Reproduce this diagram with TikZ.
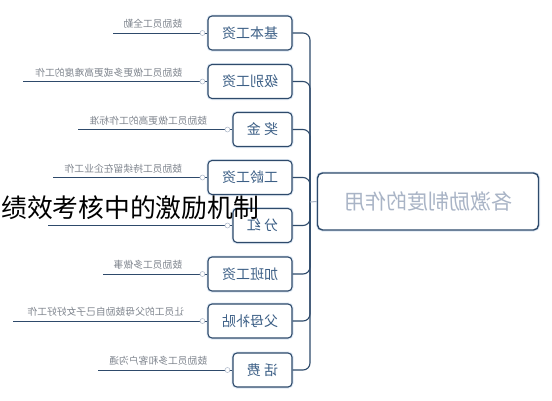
\documentclass[tikz,border=0pt]{standalone}
\usepackage{fontspec}
\newfontfamily\cjk{Noto Sans CJK SC}
\definecolor{navy}{HTML}{2E4A6B}
\definecolor{boxtext}{HTML}{3C5F86}
\definecolor{leaftext}{HTML}{80868F}
\definecolor{roottext}{HTML}{A9B4C6}
\definecolor{glow}{HTML}{DCE7F3}
\tikzset{
  childbox/.style={draw=navy, line width=1.1pt, rounded corners=4pt, fill=white,
    minimum height=34pt, inner sep=0pt, text=boxtext,
    font=\cjk\fontsize{14}{14}\selectfont,
    preaction={draw=glow, line width=3pt}},
  widebox/.style={childbox, minimum width=84pt},
  narrowbox/.style={childbox, minimum width=59pt},
  rootbox/.style={draw=navy, line width=1.4pt, rounded corners=5pt, fill=white,
    minimum width=221pt, minimum height=57pt, inner sep=0pt, text=roottext,
    font=\cjk\fontsize{21}{21}\selectfont,
    preaction={draw=glow, line width=3pt}},
  conn/.style={draw=navy, line width=1.1pt, rounded corners=7pt},
  leafline/.style={draw=navy, line width=1pt},
  leaflabel/.style={anchor=south east, inner sep=0pt, text=leaftext,
    font=\cjk\fontsize{9.8}{10}\selectfont},
  knob/.style={circle, draw=roottext, fill=white, line width=0.5pt,
    minimum size=5pt, inner sep=0pt},
  title/.style={anchor=west, inner sep=0pt, text=black,
    font=\cjk\fontsize{25.8}{26}\selectfont}
}
\begin{document}
\begin{tikzpicture}[x=1pt, y=-1pt]
\useasboundingbox (0,0) rectangle (552,400);
\fill[white] (0,0) rectangle (552,400);

% root
\node[rootbox] (root) at (428,201.5) {\reflectbox{各激励制度的作用}};
\coordinate (trunk) at (310,202);

% children
\node[widebox]   (c1) at (250,33)   {\reflectbox{基本工资}};
\node[widebox]   (c2) at (250,81.5) {\reflectbox{级别工资}};
\node[narrowbox] (c3) at (262.5,129.5) {\reflectbox{奖\ 金}};
\node[widebox]   (c4) at (250,177.5) {\reflectbox{工龄工资}};
\node[narrowbox] (c5) at (262.5,225.5) {\reflectbox{分\ 红}};
\node[widebox]   (c6) at (250,274)  {\reflectbox{加班工资}};
\node[widebox]   (c7) at (250,321)  {\reflectbox{父母补贴}};
\node[narrowbox] (c8) at (262.5,370) {\reflectbox{话\ 费}};

% connectors to trunk
\foreach \c in {c1,c2,c3,c4,c5,c6,c7,c8}
  \draw[conn] (\c.east) -| (trunk);
\draw[draw=roottext, line width=1pt] (trunk) -- (root.west);

% leaf lines
\coordinate (l1) at (113,33);
\coordinate (l2) at (23,81.5);
\coordinate (l3) at (78,129.5);
\coordinate (l4) at (53,177.5);
\coordinate (l5) at (48,225.5);
\coordinate (l6) at (103,274);
\coordinate (l7) at (13,321);
\coordinate (l8) at (98,370);
\foreach \i in {1,...,8}
  \draw[leafline] (l\i) -- (c\i.west);
\foreach \i in {1,...,8}
  \node[knob] (k\i) at ([xshift=-5pt]c\i.west) {};

% leaf labels
\node[leaflabel] (t1) at ([xshift=-20pt, yshift=4pt]k1.center) {\reflectbox{鼓励员工全勤}};
\node[leaflabel] (t2) at ([xshift=-20pt, yshift=4pt]k2.center) {\reflectbox{鼓励员工做更多或更高难度的工作}};
\node[leaflabel] (t3) at ([xshift=-20pt, yshift=4pt]k3.center) {\reflectbox{鼓励员工做更高的工作标准}};
\node[leaflabel] (t4) at ([xshift=-20pt, yshift=4pt]k4.center) {\reflectbox{鼓励员工持续留在企业工作}};
\node[leaflabel] (t6) at ([xshift=-20pt, yshift=4pt]k6.center) {\reflectbox{鼓励员工多做事}};
\node[leaflabel] (t7) at ([xshift=-18pt, yshift=4pt]k7.center) {\reflectbox{让员工的父母鼓励自己子女好好工作}};
\node[leaflabel] (t8) at ([xshift=-20pt, yshift=4pt]k8.center) {\reflectbox{鼓励员工多和客户沟通}};

% overlay title
\node[title] (ttl) at (1,208) {绩效考核中的激励机制};
\end{tikzpicture}
\end{document}
